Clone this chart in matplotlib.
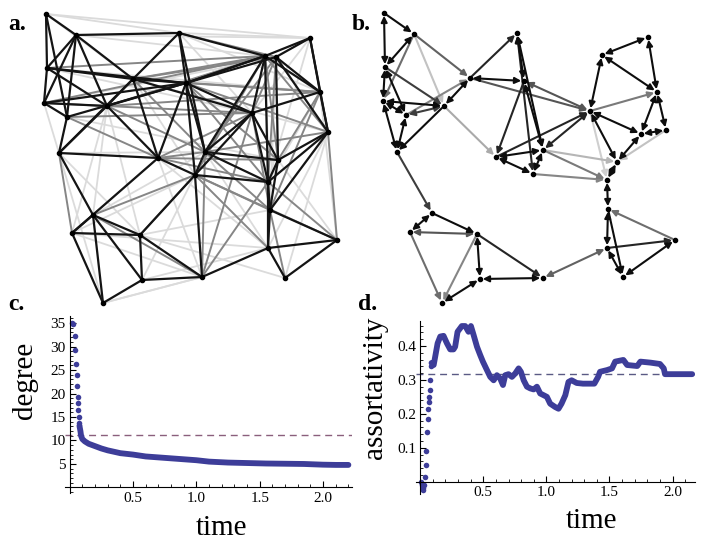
import numpy as np
import matplotlib
matplotlib.use('Agg')
import matplotlib.pyplot as plt
from matplotlib.ticker import MultipleLocator, FixedLocator

plt.rcParams['font.family'] = ['Liberation Serif', 'DejaVu Serif']

W, H = 706, 543

# ---- panel a: node positions (pixels) and weighted edges
a_x = [46, 76, 179, 47, 133, 44, 107, 67, 59, 158, 186, 310, 265, 276, 320, 252,
       328, 205, 278, 195, 268, 93, 270, 72, 140, 337, 268, 202, 142, 285, 103]
a_y = [14, 35, 33, 68, 79, 103, 106, 117, 153, 158, 83, 38, 56, 57, 92, 113,
       132, 152, 160, 175, 182, 215, 210, 233, 235, 240, 248, 277, 280, 278, 303]
a_strong = [(0, 1), (0, 3), (0, 7), (1, 3), (1, 4), (1, 5), (1, 7), (1, 6), (2, 4),
            (2, 10), (2, 17), (2, 12), (3, 4), (3, 6), (3, 5), (4, 6), (4, 9),
            (4, 10), (4, 8), (4, 15), (5, 6), (5, 7), (5, 10), (6, 8), (6, 9),
            (7, 8), (8, 21), (8, 9), (9, 10), (9, 19), (9, 23), (10, 12), (10, 17),
            (10, 19), (10, 15), (11, 12), (11, 13), (11, 14), (11, 16), (12, 15),
            (12, 14), (12, 17), (13, 14), (13, 18), (13, 16), (14, 16), (14, 15),
            (15, 17), (15, 19), (15, 18), (15, 20), (16, 18), (16, 20), (16, 22),
            (17, 18), (17, 19), (17, 20), (18, 20), (18, 22), (19, 24), (19, 27),
            (19, 20), (20, 22), (20, 26), (21, 23), (21, 24), (21, 28), (21, 30),
            (22, 26), (22, 25), (23, 24), (23, 30), (24, 28), (24, 27), (25, 26),
            (25, 29), (26, 27), (26, 29), (27, 28), (28, 30), (2, 1), (6, 10),
            (12, 10), (13, 10), (3, 10), (7, 10), (12, 20)]
a_medium = [(5, 15), (6, 12), (3, 12), (4, 14), (6, 17), (9, 15),
            (9, 18), (10, 16), (10, 20), (19, 22), (19, 26), (20, 25), (22, 29),
            (15, 27), (17, 27), (12, 16), (13, 15), (4, 13), (7, 9), (21, 27),
            (8, 23), (16, 25), (10, 18), (12, 18), (13, 20), (4, 12), (9, 17),
            (17, 22), (20, 27), (7, 15), (5, 12), (6, 14), (4, 17), (13, 17),
            (12, 19), (14, 18), (14, 22), (9, 20), (10, 14), (2, 13), (19, 25),
            (17, 16), (15, 22), (24, 19), (21, 19)]
a_light = [(0, 2), (2, 11), (1, 11), (1, 12), (6, 21), (8, 30), (9, 27), (4, 19),
           (24, 22), (23, 26), (28, 26), (12, 22), (13, 22), (14, 20),
           (2, 14), (3, 15), (5, 13), (7, 18), (4, 16), (5, 8), (27, 30), (14, 25),
           (6, 24), (8, 24), (9, 26), (17, 26), (18, 25), (11, 15), (0, 4), (24, 29),
           (23, 27), (16, 26), (21, 9), (6, 23), (0, 11), (3, 14), (8, 17),
           (11, 20), (16, 29), (21, 17), (28, 19), (30, 27), (23, 19), (2, 15)]

# ---- panel b: node positions (pixels) and directed edges (a, b, weight, both ways)
b_x = [384, 414, 385, 383, 406, 444, 397, 470, 517, 524, 543, 496, 533, 590, 602,
       648, 657, 666, 641, 617, 607, 608, 675, 607, 623, 543, 432, 410, 477, 480, 442]
b_y = [13, 34, 67, 101, 115, 106, 152, 78, 33, 81, 150, 157, 174, 111, 55,
       37, 92, 130, 134, 162, 180, 209, 240, 248, 277, 278, 213, 232, 234, 279, 303]
b_edges = [(0, 1, 1.0, 0), (0, 2, 1.0, 2), (1, 2, 1.0, 2), (1, 3, 0.6, 0),
           (1, 7, 0.65, 0), (1, 5, 0.25, 0), (2, 3, 1.0, 2), (2, 4, 1.0, 2),
           (2, 5, 0.8, 0), (3, 6, 1.0, 2), (3, 4, 1.0, 2), (3, 5, 1.0, 2),
           (4, 5, 0.8, 2), (4, 6, 1.0, 2), (5, 6, 1.0, 0), (5, 7, 1.0, 2),
           (4, 7, 0.5, 0), (5, 11, 0.35, 0), (7, 8, 0.9, 0), (7, 9, 1.0, 2),
           (7, 13, 0.7, 0), (8, 9, 1.0, 2), (8, 10, 1.0, 2), (8, 12, 0.9, 2),
           (9, 10, 1.0, 2), (9, 11, 0.9, 0), (9, 13, 0.7, 2), (10, 11, 1.0, 2),
           (10, 12, 1.0, 2), (11, 12, 1.0, 2), (11, 13, 0.9, 0), (10, 13, 0.9, 2),
           (10, 19, 0.3, 0), (10, 20, 0.55, 0), (12, 20, 0.5, 0), (13, 14, 1.0, 2),
           (13, 16, 0.55, 0), (13, 18, 1.0, 2), (13, 19, 1.0, 2), (13, 20, 0.2, 0),
           (14, 15, 1.0, 2), (14, 16, 1.0, 2), (15, 16, 1.0, 2), (16, 17, 1.0, 2),
           (16, 18, 1.0, 2), (17, 18, 1.0, 2), (17, 19, 0.25, 0), (18, 19, 1.0, 2),
           (19, 20, 1.0, 2), (20, 21, 1.0, 2), (21, 23, 1.0, 2), (21, 22, 0.6, 1),
           (21, 24, 1.0, 0), (23, 22, 0.9, 0), (22, 24, 1.0, 2), (23, 24, 1.0, 2),
           (25, 23, 0.65, 2), (6, 26, 0.8, 0), (26, 27, 1.0, 2), (26, 28, 1.0, 0),
           (27, 28, 0.7, 2), (27, 30, 0.6, 0), (28, 30, 0.5, 0), (28, 29, 1.0, 2),
           (28, 25, 0.9, 0), (29, 25, 1.0, 2), (29, 30, 1.0, 2)]

# ---- panel c: mean degree vs time
c_t_early = [0.018, 0.024, 0.042, 0.044, 0.052, 0.055, 0.058, 0.062, 0.066, 0.068,
             0.070, 0.073, 0.076]
c_deg_early = [35.1, 34.7, 32.2, 29.3, 26.3, 23.9, 21.5, 19.3, 17.9, 16.5,
               15.1, 13.8, 13.2]
c_t = [0.078, 0.085, 0.09, 0.1, 0.12, 0.15, 0.2, 0.25, 0.3, 0.4, 0.5, 0.6, 0.75,
       0.9, 1.0, 1.1, 1.25, 1.4, 1.55, 1.7, 1.85, 2.0, 2.1, 2.2]
c_deg = [13.0, 12.0, 11.0, 10.3, 9.8, 9.3, 8.8, 8.3, 7.9, 7.3, 7.0, 6.6, 6.3,
         6.0, 5.8, 5.5, 5.3, 5.2, 5.1, 5.05, 5.0, 4.85, 4.8, 4.8]
c_ref = 11.1

# ---- panel d: assortativity vs time
d_t_early = [0.005, 0.012, 0.02, 0.026, 0.032, 0.038, 0.044, 0.05, 0.055, 0.06,
             0.064, 0.068, 0.072, 0.076, 0.08, 0.084]
d_as_early = [0.0, -0.01, -0.02, -0.025, -0.01, 0.015, 0.05, 0.09, 0.145, 0.185,
              0.215, 0.235, 0.25, 0.27, 0.3, 0.34]
d_t = [0.09, 0.107, 0.138, 0.159, 0.185, 0.212, 0.238, 0.264, 0.277, 0.296, 0.33,
       0.357, 0.383, 0.402, 0.423, 0.45, 0.476, 0.497, 0.529, 0.555, 0.582, 0.608,
       0.634, 0.656, 0.674, 0.70, 0.727, 0.753, 0.78, 0.798, 0.82, 0.846, 0.872,
       0.899, 0.925, 0.951, 0.978, 1.004, 1.03, 1.07, 1.096, 1.12, 1.15, 1.175,
       1.2, 1.24, 1.29, 1.38, 1.41, 1.425, 1.48, 1.52, 1.545, 1.61, 1.64, 1.72,
       1.745, 1.825, 1.90, 1.93, 1.94, 2.155]
d_as = [0.35, 0.344, 0.408, 0.428, 0.430, 0.408, 0.39, 0.39, 0.398, 0.442, 0.459,
        0.459, 0.442, 0.459, 0.433, 0.398, 0.373, 0.354, 0.329, 0.309, 0.299, 0.314,
        0.304, 0.285, 0.314, 0.317, 0.309, 0.319, 0.334, 0.324, 0.299, 0.280, 0.275,
        0.272, 0.28, 0.26, 0.255, 0.25, 0.23, 0.22, 0.215, 0.23, 0.255, 0.294,
        0.299, 0.291, 0.289, 0.289, 0.309, 0.324, 0.329, 0.334, 0.354, 0.359, 0.344,
        0.341, 0.354, 0.351, 0.347, 0.334, 0.317, 0.317]
d_ref = 0.317

PT_COLOR = '#3d3d99'


def px_box(left, top, right, bottom):
    return [left / W, 1 - bottom / H, (right - left) / W, (bottom - top) / H]


def gray(w):
    return str(round(1 - 0.95 * w, 3))


fig = plt.figure(figsize=(W / 100, H / 100), dpi=100)

# networks drawn in pixel coordinates
net = fig.add_axes([0, 0, 1, 1])
net.set_xlim(0, W)
net.set_ylim(H, 0)
net.axis('off')

for edges, w, lw in [(a_light, 0.15, 1.3), (a_medium, 0.5, 1.4), (a_strong, 0.97, 1.6)]:
    for i, j in edges:
        net.plot([a_x[i], a_x[j]], [a_y[i], a_y[j]], color=gray(w), lw=lw,
                 solid_capstyle='round', zorder=1 + w)
net.plot(a_x, a_y, 'o', color='black', ms=3, zorder=5)

for i, j, w, both in sorted(b_edges, key=lambda e: e[2]):
    src, dst = (j, i) if both == 1 else (i, j)
    style = '<|-|>' if both == 2 else '-|>'
    net.annotate('', xy=(b_x[dst], b_y[dst]), xytext=(b_x[src], b_y[src]),
                 arrowprops=dict(arrowstyle=style, mutation_scale=9, lw=1.5,
                                 color=gray(w), shrinkA=2, shrinkB=2),
                 zorder=2 + w)
net.plot(b_x, b_y, 'o', color='black', ms=3, zorder=5)

for lbl, x, y in [('a.', 8, 30), ('b.', 352, 30), ('c.', 8, 310), ('d.', 358, 310)]:
    fig.text(x / W, 1 - y / H, lbl, fontsize=17, fontweight='bold', va='baseline')


def style_axes(ax):
    ax.patch.set_alpha(0)
    ax.spines['left'].set_position(('data', 0))
    ax.spines['bottom'].set_position(('data', 0))
    ax.spines['top'].set_visible(False)
    ax.spines['right'].set_visible(False)
    for s in ('left', 'bottom'):
        ax.spines[s].set_linewidth(0.8)
    ax.tick_params(which='both', direction='in', labelsize=11, pad=3)
    ax.tick_params(which='major', length=4, width=0.8)
    ax.tick_params(which='minor', length=2, width=0.6)
    ax.xaxis.set_major_locator(FixedLocator([0.5, 1.0, 1.5, 2.0]))
    ax.xaxis.set_minor_locator(MultipleLocator(0.1))
    ax.xaxis.set_major_formatter(matplotlib.ticker.FormatStrFormatter('%.1f'))


# panel c
axc = fig.add_axes(px_box(64.6, 316, 352.2, 493.1))
axc.set_xlim(-0.04, 2.23)
axc.set_ylim(-1.2, 36.5)
style_axes(axc)
axc.yaxis.set_major_locator(FixedLocator([5, 10, 15, 20, 25, 30, 35]))
axc.yaxis.set_minor_locator(MultipleLocator(1))
axc.axhline(c_ref, color='#8a5f7c', lw=1.0, ls=(0, (5, 3.5)))
axc.plot(c_t, c_deg, '-', color=PT_COLOR, lw=4.2, solid_capstyle='round')
axc.plot(c_t_early, c_deg_early, 'o', color=PT_COLOR, ms=4, mec='none')
fig.text(25 / W, 1 - 380 / H, 'degree', fontsize=21, rotation=90,
         ha='center', va='center')
fig.text(222 / W, 1 - 528 / H, 'time', fontsize=21, ha='center', va='center')

# panel d
axd = fig.add_axes(px_box(416.4, 320.6, 695.3, 493.5))
axd.set_xlim(-0.03, 2.18)
axd.set_ylim(-0.035, 0.475)
style_axes(axd)
axd.yaxis.set_major_locator(FixedLocator([0.1, 0.2, 0.3, 0.4]))
axd.yaxis.set_minor_locator(MultipleLocator(0.02))
axd.yaxis.set_major_formatter(matplotlib.ticker.FormatStrFormatter('%.1f'))
axd.axhline(d_ref, color='#5a5a84', lw=1.0, ls=(0, (5, 3.5)))
axd.plot(d_t, d_as, '-', color=PT_COLOR, lw=4.2, solid_capstyle='round',
         solid_joinstyle='round')
axd.plot(d_t_early, d_as_early, 'o', color=PT_COLOR, ms=4, mec='none')
fig.text(375 / W, 1 - 388 / H, 'assortativity', fontsize=21, rotation=90,
         ha='center', va='center')
fig.text(592 / W, 1 - 521 / H, 'time', fontsize=21, ha='center', va='center')

fig.savefig('out.png', dpi=100)
